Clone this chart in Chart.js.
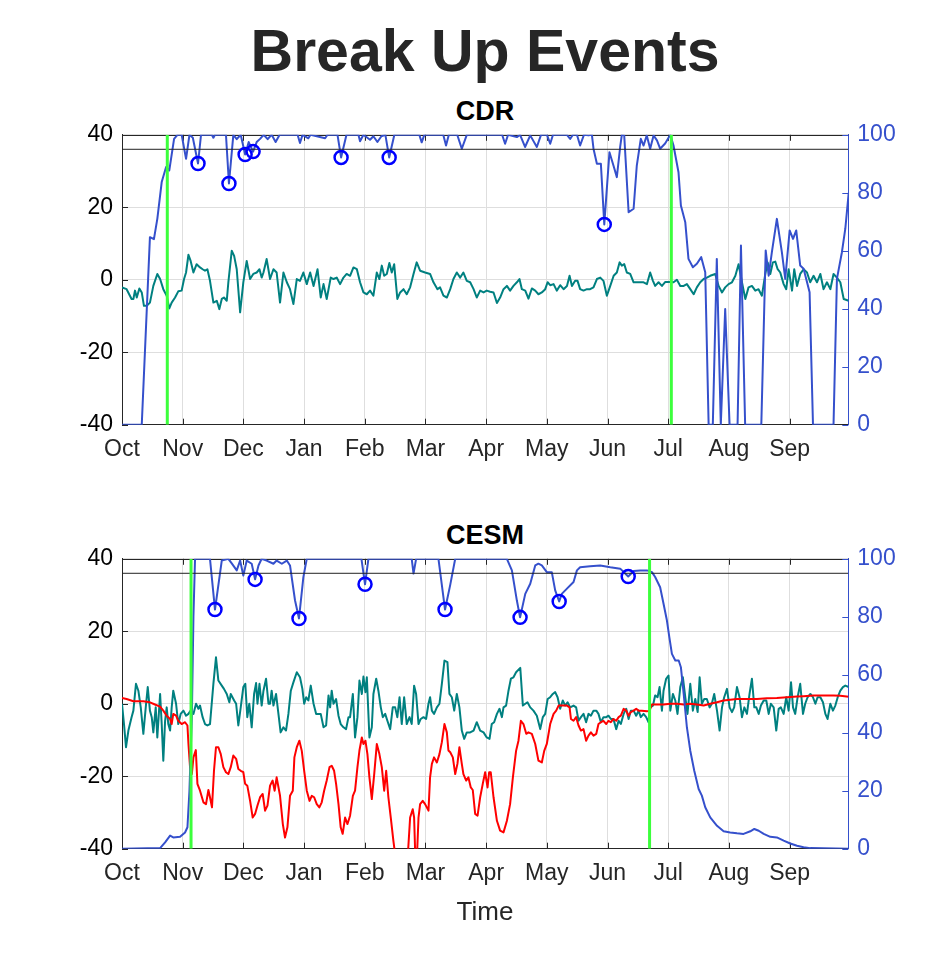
<!DOCTYPE html>
<html>
<head>
<meta charset="utf-8">
<script src="https://cdn.jsdelivr.net/npm/chart.js@4.4.1/dist/chart.umd.min.js"></script>
<style>
  html, body { margin: 0; padding: 0; background: #fff; }
  body { width: 938px; height: 954px; position: relative; overflow: hidden; font-family: "Liberation Sans", Arial, sans-serif; }
  .t { position: absolute; left: 122px; width: 726px; text-align: center; white-space: nowrap; }
  canvas { position: absolute; left: 0; }
</style>
</head>
<body>
<div class="t" style="top:22.3px;font-size:59px;line-height:59px;font-weight:bold;color:#262626;">Break Up Events</div>
<div class="t" style="top:98.2px;font-size:27px;line-height:27px;font-weight:bold;color:#000;">CDR</div>
<canvas id="c1" width="938" height="370" style="top:111.5px"></canvas>
<div class="t" style="top:522.2px;font-size:27px;line-height:27px;font-weight:bold;color:#000;">CESM</div>
<canvas id="c2" width="938" height="370" style="top:535.5px"></canvas>
<div class="t" style="top:898.3px;font-size:26px;line-height:26px;color:#262626;">Time</div>
<script>
// ---------- data (x = day since 1 Oct, y = value) ----------
const monthLabels = ['Oct','Nov','Dec','Jan','Feb','Mar','Apr','May','Jun','Jul','Aug','Sep'];
const leftTicks = [-40, -20, 0, 20, 40];
const rightTicks = [0, 20, 40, 60, 80, 100];
const threshold = 95;

// CDR
const cdrDiff = [[0,-2.1],[2.3,-2.6],[4.8,-5.3],[5.7,-5.3],[6.5,-3.0],[7.4,-4.9],[8.7,-2.4],[9.9,-3.5],[11.0,-7.2],[12.4,-7.2],[14.0,-6.3],[15.7,-1.7],[17.7,1.6],[19.1,0.2],[20.7,-2.6],[22.4,-4.4],[23.7,-7.9],[24.9,-6.3],[26.6,-4.9],[28.2,-3.2],[29.9,-3.0],[31.1,0.2],[32.1,2.0],[33.3,6.9],[34.4,5.2],[35.8,2.0],[37.4,4.3],[39.1,3.4],[40.4,2.9],[41.6,2.5],[42.8,2.9],[44.1,-0.3],[45.8,-6.3],[47.5,-5.8],[48.8,-8.1],[50.0,-5.3],[51.1,-4.9],[52.5,-5.8],[53.3,-0.7],[55.0,8.0],[56.2,6.6],[57.5,2.9],[59.2,-9.0],[60.8,-0.7],[62.5,5.2],[64.2,0.2],[65.8,1.6],[67.5,2.0],[68.9,2.9],[70.0,0.6],[70.9,2.0],[72.5,5.7],[74.2,0.2],[75.9,2.9],[77.5,2.0],[79.2,-6.3],[80.9,2.0],[82.6,-0.7],[84.2,-2.6],[85.9,-6.7],[87.6,0.2],[89.2,-0.3],[90.9,2.0],[92.6,-1.2],[94.3,2.0],[96.0,-1.7],[98.0,2.9],[99.6,-4.9],[101.0,-1.2],[102.6,-5.3],[104.6,0.6],[106.0,0.2],[107.6,0.6],[109.3,-1.2],[111.0,0.6],[112.6,1.6],[114.3,1.1],[116.0,3.4],[117.7,2.9],[119.3,-0.7],[121.0,-3.5],[122.7,-4.0],[124.3,-3.0],[126.0,-4.4],[127.7,2.0],[129.0,0.2],[130.2,3.9],[131.4,1.1],[132.7,1.6],[134.0,4.6],[135.2,2.0],[136.4,4.3],[138.0,-5.3],[139.4,-3.5],[141.1,-2.6],[142.7,-4.0],[144.4,-2.1],[146.1,1.6],[147.7,4.8],[149.4,2.5],[151.9,2.0],[154.4,1.6],[156.1,-0.7],[158.1,-2.6],[159.4,-2.1],[161.1,-4.4],[162.8,-4.9],[164.5,-2.6],[166.1,0.2],[167.8,2.0],[169.5,0.6],[171.1,2.0],[172.8,-0.3],[174.5,-0.7],[176.2,-2.6],
[177.8,-4.9],[179.5,-3.0],[181.2,-3.5],[182.8,-3.0],[184.5,-3.3],[186.2,-3.5],[187.9,-6.4],[189.5,-4.9],[191.2,-2.6],[192.9,-1.7],[194.5,-3.0],[196.2,-1.7],[197.9,-0.7],[199.2,0.2],[200.4,-2.6],[202.1,-3.0],[203.7,-5.2],[205.4,-2.4],[207.1,-3.0],[208.7,-4.0],[210.4,-3.5],[212.1,-2.6],[213.3,-0.7],[214.6,-1.5],[216.3,-1.2],[217.9,-3.0],[219.6,-1.5],[221.3,-2.6],[223.0,-1.7],[224.3,1.1],[225.5,-1.7],[227.1,-0.3],[228.3,-0.3],[229.6,-2.6],[231.3,-3.0],[233.0,-2.6],[234.6,-2.6],[236.3,-2.1],[238.0,0.2],[239.7,0.6],[241.3,-0.3],[243.0,-4.4],[244.7,-1.7],[246.4,1.1],[248.0,2.0],[249.4,4.8],[250.5,3.9],[251.7,4.3],[253.0,2.0],[254.7,1.6],[256.4,-0.7],[258.0,-0.7],[259.7,-0.7],[261.4,-0.7],[263.1,-1.2],[264.7,2.0],[266.1,-0.3],[267.2,-1.7],[268.9,-0.7],[270.6,-1.7],[272.3,-0.6],[274.8,-0.6],[276.4,-0.7],[278.1,0.0],[279.8,-1.7],[281.5,-1.7],[283.1,-1.2],[284.8,-2.6],[286.5,-4.0],[288.1,-2.1],[289.8,-0.7],[291.5,0.2],[293.1,0.6],[294.8,1.1],[297.3,1.6],[299.0,-1.7],[300.7,-3.5],[302.3,-2.1],[304.0,-1.2],[305.7,-0.7],[307.4,1.1],[309.0,4.3],[310.7,-0.7],[312.4,-5.3],[314.0,-2.1],[315.7,-1.7],[317.4,-3.0],[319.0,-2.6],[320.7,-4.4],[322.4,1.6],[323.6,4.8],[324.9,1.6],[326.2,4.8],[327.4,5.0],[328.6,2.9],[329.9,2.0],[331.6,-1.2],[332.9,-2.6],[334.1,2.9],[335.8,-3.0],[336.9,2.9],[338.3,-1.7],[339.9,1.6],[341.6,2.9],[343.3,2.0],[344.9,-0.7],[346.6,1.1],[348.3,-0.7],[350.0,1.6],[351.6,-2.6],[353.3,-0.7],[355.0,-2.6],[356.6,1.6],[358.3,0.6],[360.0,-0.7],[361.7,-5.3],[364.2,-5.8]];

const cdrSic = [[0,0],[9.9,0],[14.0,64.7],[16.0,64.0],[17.7,71.0],[19.9,83.7],[22.1,88.9],[23.7,87.7],[26.1,98.6],[27.8,100],[29.9,100],[32.1,91.7],[33.8,100],[35.5,99],[38.1,90.1],[39.6,100],[45.0,100],[45.8,99.0],[46.6,100],[52.1,100],[53.6,83.2],[55.8,100],[57.5,98.5],[59.5,100],[61.7,93.2],[63.5,97.5],[65.7,94.2],[67.5,97.5],[69.2,98.6],[71.0,100],[73.0,98.5],[75.0,100],[77.0,97.5],[79.0,100],[88.0,100],[89.2,97.2],[90.5,100],[93.4,98.8],[94.5,100],[101.8,98.8],[103,100],[108,100],[109.8,92.2],[112.5,100],[118.5,100],[119.3,97.8],[121,100],[124.3,98.3],[126,99.5],[128,97.5],[130,99.5],[132,100],[133.9,92.2],[136.5,100],[149,100],[150.2,97.4],[151.5,100],[161,100],[162.4,96.3],[163.8,100],[168,100],[170.3,95.2],[172.8,100],[190.5,100],[192.0,96.9],[193.5,100],[197.9,99.2],[199.5,100],[202.0,95.8],[204.6,99.8],[207.9,95.8],[210,100],[213,100],[214.6,96.9],[216,100],[223,100],[224.6,98.6],[226,100],[228,100],[229.6,96.3],[231.5,100],[233.8,99.8],[235.5,100],[236.3,95.2],[238.0,90.0],[240.0,90.0],[241.7,69.1],[244.3,94.0],[246.3,89.4],[248.0,85.4],[249.7,96],[250.5,100],[251.7,99.8],[253.9,73.3],[256.4,74.5],[258.0,89.4],[260.0,98.6],[261.4,96.3],[263.0,99.8],[264.7,95.2],[266.4,99.8],[268.1,98.1],[269.7,95.2],[272.2,97.0],[274.8,100],[276.4,96.3],[278.9,87.1],[280.1,75.6],[282.3,69.8],[283.9,57.2],[286.1,54.3],[288.1,55.5],[290.3,57.8],[292.3,52.6],[294.0,0],[296.1,0],[298.1,57.2],[300.1,0],[302.3,39.9],[304.5,0],[308.5,0],[310.2,61.8],[312.3,0],[320.4,0],[322.6,60.1],[324.1,51.4],[325.7,59.5],[328.2,71.0],[330.7,59.5],[332.4,50.3],[334.6,67.0],[336.3,64.1],[337.9,67.0],[339.9,54.9],[341.6,53.8],[344.6,45.7],[346.3,0],[356.6,0],[358.3,50.3],[360.8,59.5],[362.5,67.6],[364.2,80]];

const cdrEvents = [[38.1,90.1],[53.6,83.2],[61.7,93.2],[65.7,94.2],[109.8,92.2],[133.9,92.2],[241.7,69.1]];
const cdrBreaks = [22.7, 275.3];

// CESM
const cesmDiff = [[0.0,0.0],[1.0,-5.6],[2.0,-12.0],[3.2,-7.4],[4.8,-3.7],[5.7,-1.9],[7.0,5.5],[8.2,3.6],[9.4,-1.0],[10.7,-8.3],[11.9,-1.0],[12.9,4.6],[14.0,-1.9],[14.9,-3.7],[15.7,-7.9],[16.9,-1.0],[17.7,-9.3],[19.1,2.7],[19.9,-5.6],[20.7,-15.7],[21.6,-4.7],[22.4,-1.0],[23.2,-5.6],[24.1,-7.4],[24.9,-1.0],[25.7,3.6],[27.1,0.0],[28.2,-5.6],[29.4,-2.8],[30.8,-1.9],[32.1,-3.3],[33.3,-2.8],[34.4,-1.9],[35.8,-2.8],[37.1,0.0],[38.3,-1.4],[39.1,-0.5],[40.4,-3.7],[41.6,-5.6],[42.8,-6.0],[44.1,-5.6],[45.8,5.5],[47.1,12.8],[48.3,6.4],[50.0,5.0],[51.1,4.1],[52.5,2.7],[53.8,0.4],[54.5,2.7],[56.2,0.9],[57.2,0.0],[58.3,-6.0],[59.5,-1.0],[60.8,4.6],[61.8,5.5],[62.8,-3.7],[63.8,0.0],[65.0,-6.5],[66.2,2.7],[67.2,5.7],[67.9,0.0],[68.9,5.5],[70.0,-0.5],[70.9,3.6],[72.2,6.9],[73.4,0.0],[74.2,0.0],[75.0,3.6],[75.9,-0.5],[77.2,2.7],[78.4,-2.8],[79.5,-7.9],[80.9,-6.5],[82.2,-7.4],[83.4,-2.8],[84.6,3.6],[85.9,5.9],[87.6,8.7],[89.2,7.3],[90.4,4.1],[91.3,0.0],[92.3,1.8],[93.4,0.9],[94.6,5.0],[96.0,0.0],[97.3,-2.8],[98.4,-2.8],[99.6,-2.8],[101.0,-6.5],[102.3,-6.0],[103.5,2.3],[104.3,-1.0],[105.1,3.6],[106.0,0.0],[107.3,1.3],[108.5,-3.3],[109.6,-5.6],[111.0,-6.5],[112.3,-7.0],[113.5,-3.7],[114.3,-3.7],[115.7,2.7],[116.8,-9.3],[118.0,-3.7],[119.0,6.4],[120.2,2.7],[121.0,7.5],[122.0,3.2],[122.7,7.3],[124.0,-9.3],[125.2,-6.5],[126.0,2.7],[127.4,6.9],[128.5,3.6],[129.7,-1.0],[130.7,-3.7],[131.9,-2.8],[133.0,-4.7],[134.4,-7.0],[135.7,-1.0],[136.9,-1.0],[138.0,-3.7],[139.1,1.8],[140.2,-5.6],[141.4,1.8],[142.7,-5.6],[144.1,-3.7],[145.2,-5.6],[146.4,5.0],[147.4,2.7],[148.6,-5.6],[149.7,-4.2],[151.1,-3.7],[152.4,-4.2],[153.6,0.0],[154.4,1.8],[155.3,-1.9],[156.4,-2.8],[157.8,-1.0],[159.1,0.0],[160.3,5.5],[161.6,11.9],[163.1,11.5],[164.1,2.7],[165.3,1.8],[166.5,-1.9],[167.8,2.7],[169.1,-1.0],[170.3,-7.4],[171.5,-9.7],[172.8,-7.9],[174.5,-7.9],
[176.2,-7.4],[177.8,-5.1],[179.5,-7.4],[181.2,-7.9],[182.8,-9.3],[184.2,-9.7],[185.3,-5.6],[186.5,-5.1],[187.9,-2.8],[189.2,-1.4],[190.4,-3.7],[191.2,-1.0],[192.5,-0.5],[193.7,3.6],[194.9,6.9],[196.2,7.3],[197.5,8.7],[199.6,9.9],[200.9,-0.5],[202.1,0.0],[203.2,0.4],[204.6,-1.0],[206.2,-1.9],[207.9,-3.3],[209.6,-7.0],[210.9,-3.7],[212.1,-2.8],[213.3,1.3],[214.6,1.8],[215.9,2.7],[217.1,3.2],[218.3,1.8],[219.6,-1.4],[220.9,0.9],[222.1,-0.5],[223.3,0.4],[224.6,-1.0],[226.3,-0.5],[227.6,-1.0],[228.8,-4.7],[230.0,-3.7],[231.3,-2.8],[232.6,-5.1],[233.8,-2.8],[235.0,-3.3],[236.3,-1.9],[237.7,-1.9],[238.8,-2.8],[240.0,-5.1],[241.3,-3.7],[242.7,-3.7],[243.8,-3.3],[245.0,-4.2],[246.3,-4.2],[247.7,-7.0],[248.9,-4.7],[250.0,-5.6],[251.4,-2.8],[252.7,-1.4],[253.9,-4.2],[255.0,-1.9],[256.4,-1.9],[257.7,-3.3],[258.9,-1.9],[260.0,-3.7],[261.4,-2.8],[262.7,-3.7],[263.9,-5.1],[264.7,-1.0],[266.1,-0.5],[267.2,2.3],[268.4,1.8],[269.4,4.6],[270.6,-1.9],[271.4,3.6],[272.7,6.9],[273.9,7.8],[274.8,-1.9],[276.1,2.7],[277.3,0.9],[278.4,-2.8],[279.8,4.6],[281.1,7.3],[282.3,1.8],[283.4,-2.8],[284.8,5.5],[286.1,-1.9],[287.3,1.3],[288.5,-2.3],[289.5,7.3],[290.6,0.0],[291.8,1.3],[293.1,1.3],[294.5,-1.0],[295.6,0.0],[296.8,2.7],[298.2,-1.9],[299.5,-7.4],[300.7,-1.0],[301.8,1.8],[303.2,4.1],[304.5,-1.0],[305.7,-2.3],[306.8,-1.0],[308.2,4.6],[309.5,1.8],[310.7,-3.7],[311.9,-1.0],[313.2,-2.8],[314.5,2.7],[315.7,6.9],[316.9,-1.0],[317.9,-1.0],[319.1,-2.8],[320.2,-0.5],[321.6,0.9],[322.9,0.9],[324.1,-2.8],[325.2,0.0],[326.6,-1.0],[327.9,-7.4],[329.1,-1.4],[330.2,-1.0],[331.6,-2.8],[332.9,1.8],[334.1,-1.9],[335.3,5.9],[336.3,-1.0],[337.4,-2.8],[338.6,1.8],[339.9,5.5],[341.3,-2.8],[342.4,0.0],[343.6,1.8],[345.0,2.7],[346.3,1.8],[347.5,0.0],[348.6,1.8],[350.0,1.8],[351.3,0.4],[352.5,-2.8],[353.6,-4.2],[355.0,0.0],[356.3,-1.9],[357.5,-0.5],[358.7,1.8],[360.0,3.6],[361.3,4.6],[362.5,5.0],[364.2,4.6]];

const cesmTrend = [[0.0,1.6],[2.3,1.3],[5.7,0.7],[10.7,0.7],[14.0,0.4],[16.5,-0.2],[19.1,-0.8],[20.7,-1.9],[22.4,-3.3],[24.1,-4.2],[24.9,-5.6],[25.7,-2.8],[27.1,-3.3],[28.2,-4.7],[29.9,-5.6],[31.6,-5.1],[32.8,-6.0],[33.3,-11.1],[34.1,-17.5],[35.0,-19.4],[35.8,-14.8],[37.0,-12.8],[37.8,-22.1],[39.1,-24.0],[40.8,-27.2],[42.1,-27.7],[43.3,-23.8],[44.1,-25.8],[45.1,-28.6],[46.1,-18.5],[47.1,-12.0],[48.3,-12.0],[49.5,-13.9],[50.8,-17.5],[52.1,-18.9],[53.3,-19.4],[54.5,-17.5],[55.8,-14.3],[57.2,-15.2],[58.3,-18.0],[59.5,-18.5],[60.8,-18.9],[61.7,-22.1],[62.8,-22.6],[64.2,-26.8],[65.5,-31.4],[66.7,-30.4],[67.9,-28.1],[69.2,-25.8],[70.5,-24.9],[71.7,-29.5],[72.9,-28.1],[74.2,-22.6],[75.5,-21.2],[76.5,-24.0],[77.5,-20.3],[79.2,-25.4],[80.6,-33.2],[81.7,-36.9],[82.9,-34.1],[84.2,-25.4],[85.6,-24.0],[86.4,-14.8],[87.6,-12.0],[88.9,-10.2],[90.1,-13.0],[91.3,-18.5],[92.6,-24.0],[94.0,-26.8],[95.1,-25.4],[96.3,-25.8],[97.6,-27.7],[98.9,-28.6],[100.1,-27.2],[101.3,-24.0],[102.6,-21.2],[104.0,-17.5],[105.1,-17.1],[106.3,-18.5],[107.3,-22.1],[108.5,-27.7],[109.6,-34.1],[110.6,-35.9],[111.8,-31.4],[113.0,-33.2],[114.3,-30.9],[115.7,-25.4],[116.8,-24.0],[118.0,-17.5],[119.0,-12.9],[120.2,-9.3],[121.0,-11.1],[122.0,-10.2],[123.0,-13.9],[124.0,-20.3],[125.2,-26.3],[126.4,-19.4],[127.7,-11.1],[129.0,-13.9],[130.2,-17.5],[131.4,-24.0],[132.4,-18.5],[133.5,-25.8],[134.7,-31.4],[136.0,-37.8],[137.0,-42],[138.5,-45],[140.5,-45],[143.0,-44],[144.4,-31.4],[145.7,-29.1],[146.4,-31.4],[147.1,-44],[147.7,-44],[148.6,-31.4],[149.4,-27.7],[150.7,-26.8],[151.9,-27.7],[153.6,-29.5],[154.4,-20.3],[155.3,-16.6],[156.4,-14.8],[157.8,-16.2],[159.1,-13.9],[160.3,-10.6],[161.6,-5.6],[162.8,-7.9],[163.6,-12.9],[164.5,-13.4],[165.8,-14.8],[167.0,-19.4],[168.1,-16.6],[169.1,-12.0],[170.3,-16.6],[171.1,-19.4],[172.5,-21.2],[173.6,-20.3],[174.8,-23.1],
[175.8,-23.8],[177.0,-30.4],[178.2,-30.9],[179.5,-25.8],[180.8,-22.1],[182.0,-18.9],[183.2,-23.1],[184.0,-18.9],[184.8,-18.9],[186.2,-25.8],[187.9,-32.3],[189.5,-35.0],[191.2,-35.5],[192.9,-32.3],[194.5,-27.7],[195.9,-20.3],[197.5,-13.0],[198.7,-10.2],[199.9,-4.7],[201.2,-5.6],[202.6,-8.3],[203.7,-7.9],[205.4,-8.3],[207.1,-11.1],[208.7,-15.7],[210.4,-16.2],[211.6,-13.0],[212.9,-11.1],[214.6,-5.6],[216.3,-2.8],[217.6,-1.9],[218.8,-0.5],[220.4,-0.5],[223.0,-0.5],[224.3,-1.0],[225.0,-4.2],[226.3,-4.7],[227.6,-3.7],[228.8,-6.0],[230.0,-7.4],[231.3,-7.0],[232.6,-10.2],[233.8,-8.8],[235.0,-7.9],[236.3,-8.8],[237.7,-8.3],[238.8,-5.6],[240.0,-5.1],[241.3,-4.7],[242.7,-5.6],[243.8,-4.7],[245.0,-5.1],[246.3,-4.2],[247.7,-4.7],[248.9,-3.7],[250.0,-3.3],[251.4,-1.4],[252.7,-1.9],[253.9,-3.3],[255.0,-2.3],[256.4,-1.9],[257.7,-1.4],[258.9,-1.9],[260.5,-1.9],[263.1,-2.1],[264.4,-1.9],[265.6,-0.2],[268.1,-0.2],[271.4,-0.2],[274.8,0.0],[278.1,0.0],[281.5,-0.2],[284.8,0.0],[288.1,-0.2],[291.5,-0.5],[294.8,0.0],[298.2,0.4],[301.5,0.9],[304.8,1.1],[308.2,1.3],[313.2,1.3],[318.2,1.3],[323.2,1.5],[328.2,1.6],[333.3,1.8],[338.3,2.0],[341.6,2.1],[346.6,2.3],[351.6,2.3],[356.6,2.3],[360.0,2.2],[364.2,1.9]];

const cesmSic = [[0,0],[19.1,0.2],[21.6,2.2],[24.1,4.5],[25.7,3.9],[29.1,4.1],[31.6,5.6],[32.8,7.4],[33.8,20],[35.0,45.3],[35.8,79.9],[36.6,100],[44.1,100],[46.6,82.5],[50.0,99.4],[53.3,100],[55.0,98.4],[57.5,96.0],[59.2,99.4],[60.8,94.2],[62.5,99.4],[65.0,98.3],[66.7,92.9],[68.4,97.7],[70.0,100],[72.5,99.4],[75.9,98.3],[77.5,99.4],[80.1,98.3],[82.6,99.4],[84.2,97.7],[86.7,85.7],[88.7,79.4],[90.9,93.7],[92.6,100],[120.0,100],[121.8,91.2],[123.5,100],[145.2,100],[146.1,94.9],[147.4,100],[158.6,100],[161.9,82.5],[164.5,91],[167.0,100],[192.9,100],[195.4,96.0],[197.9,85.6],[199.5,79.8],[202.1,87.9],[204.6,91.4],[207.1,97.7],[208.7,98.3],[210.4,97.7],[212.9,95.4],[215.4,95.4],[217.1,89.1],[219.1,85.3],[220.4,87.9],[223.0,89.7],[226.3,92.0],[228.0,96.0],[229.6,97.1],[234.6,97.4],[239.7,97.7],[244.7,97.1],[249.7,96.6],[253.7,93.9],[256.4,95.8],[259.7,96.0],[263.1,96.0],[265.6,95.4],[267.2,93.7],[269.7,90.2],[271.4,84.5],[273.1,78.7],[274.3,73.0],[275.6,67.2],[277.3,64.9],[279.0,64.9],[280.1,62.6],[281.5,53.4],[283.1,41.9],[284.8,33.8],[286.8,26.9],[289.0,20.6],[290.6,18.3],[292.3,14.3],[294.8,10.8],[298.2,7.9],[301.5,6.0],[304.8,5.6],[308.2,5.3],[311.5,5.1],[314.9,6.0],[316.9,6.8],[319.1,6.2],[321.6,5.1],[324.9,4.1],[328.2,3.9],[331.6,2.8],[334.9,1.8],[338.3,1.0],[341.6,0.5],[345.0,0.2],[364.2,0]];

const cesmEvents = [[46.6,82.5],[66.7,92.9],[88.7,79.4],[121.8,91.2],[161.9,82.5],[199.5,79.8],[219.1,85.3],[253.7,93.9]];
const cesmBreaks = [34.6, 264.4];

// ---------- styles ----------
const TEAL = '#008080', BLUE = '#3550cc', MARK = '#0000ff', RED = '#ff0000', GREEN = '#3cff3c';
const AXIS = '#262626', GRID = '#dedede';
const FONT = '"Liberation Sans", Arial, sans-serif';
Chart.defaults.font.family = FONT;

const monthTicks = monthLabels.map((_, i) => i * 365 / 12);
const pts = arr => arr.map(([x, y]) => ({x, y}));

const frame = {
  id: 'frame',
  beforeDatasetsDraw(chart) {
    const {ctx, chartArea: a, scales} = chart;
    const L = 6;
    ctx.save();
    ctx.lineWidth = 1;
    ctx.strokeStyle = AXIS;
    ctx.beginPath();
    const ty = Math.round(a.top) + 0.5;
    ctx.moveTo(a.left, ty); ctx.lineTo(a.right, ty);
    scales.x.ticks.forEach(t => {
      const p = Math.round(scales.x.getPixelForValue(t.value)) + 0.5;
      ctx.moveTo(p, a.bottom); ctx.lineTo(p, a.bottom - L);
      ctx.moveTo(p, a.top); ctx.lineTo(p, a.top + L);
    });
    scales.y.ticks.forEach(t => {
      const p = Math.round(scales.y.getPixelForValue(t.value)) + 0.5;
      ctx.moveTo(a.left, p); ctx.lineTo(a.left + L, p);
    });
    ctx.stroke();
    ctx.strokeStyle = BLUE;
    ctx.beginPath();
    scales.y1.ticks.forEach(t => {
      const p = Math.round(scales.y1.getPixelForValue(t.value)) + 0.5;
      ctx.moveTo(a.right, p); ctx.lineTo(a.right - L, p);
    });
    ctx.stroke();
    ctx.restore();
  }
};

function makeChart(id, cfg) {
  const ds = [];
  ds.push({ label: 'events', data: pts(cfg.events), yAxisID: 'y1', showLine: false,
    pointRadius: 6.5, pointHoverRadius: 6.5, pointBorderWidth: 2.5, pointBorderColor: MARK,
    pointBackgroundColor: 'rgba(0,0,0,0)', pointStyle: 'circle' });
  cfg.breaks.forEach(d => ds.push({ label: 'break', data: [{x: d, y: -40}, {x: d, y: 40}], yAxisID: 'y',
    borderColor: GREEN, borderWidth: 3, pointRadius: 0 }));
  ds.push({ label: 'threshold', data: [{x: 0, y: threshold}, {x: 364, y: threshold}], yAxisID: 'y1',
    borderColor: '#222', borderWidth: 1, pointRadius: 0 });
  ds.push({ label: 'sic', data: pts(cfg.sic), yAxisID: 'y1', borderColor: BLUE, borderWidth: 2, pointRadius: 0 });
  if (cfg.trend) ds.push({ label: 'trend', data: pts(cfg.trend), yAxisID: 'y', borderColor: RED, borderWidth: 2, pointRadius: 0 });
  ds.push({ label: 'diff', data: pts(cfg.diff), yAxisID: 'y', borderColor: TEAL, borderWidth: 2, pointRadius: 0 });

  return new Chart(document.getElementById(id), {
    type: 'line',
    data: { datasets: ds },
    options: {
      responsive: false,
      animation: false,
      events: [],
      layout: { padding: { top: 0, bottom: 13.3, left: 0, right: 0 } },
      plugins: { legend: { display: false }, tooltip: { enabled: false }, title: { display: false } },
      elements: { line: { tension: 0, borderJoinStyle: 'round' } },
      scales: {
        x: {
          type: 'linear', min: 0, max: 364,
          afterBuildTicks: s => { s.ticks = monthTicks.map(v => ({ value: v })); },
          afterFit: s => { s.height = 44; },
          ticks: { autoSkip: false, maxRotation: 0, minRotation: 0, padding: 11.5, color: AXIS,
                   font: { size: 23 }, callback: (v, i) => monthLabels[i] },
          grid: { color: GRID, lineWidth: 1, drawTicks: false },
          border: { color: AXIS, width: 1 }
        },
        y: {
          position: 'left', min: -40, max: 40,
          afterBuildTicks: s => { s.ticks = leftTicks.map(v => ({ value: v })); },
          afterFit: s => { s.width = 122; },
          ticks: { padding: 9, color: '#000', font: { size: 23 } },
          grid: { color: GRID, lineWidth: 1, drawTicks: false },
          border: { color: AXIS, width: 1 }
        },
        y1: {
          position: 'right', min: 0, max: 100,
          afterBuildTicks: s => { s.ticks = rightTicks.map(v => ({ value: v })); },
          afterFit: s => { s.width = 89.7; },
          ticks: { padding: 9, color: BLUE, font: { size: 23 } },
          grid: { drawOnChartArea: false, drawTicks: false },
          border: { color: BLUE, width: 1 }
        }
      }
    },
    plugins: [frame]
  });
}

makeChart('c1', { diff: cdrDiff, sic: cdrSic, events: cdrEvents, breaks: cdrBreaks });
makeChart('c2', { diff: cesmDiff, trend: cesmTrend, sic: cesmSic, events: cesmEvents, breaks: cesmBreaks });
</script>
</body>
</html>
